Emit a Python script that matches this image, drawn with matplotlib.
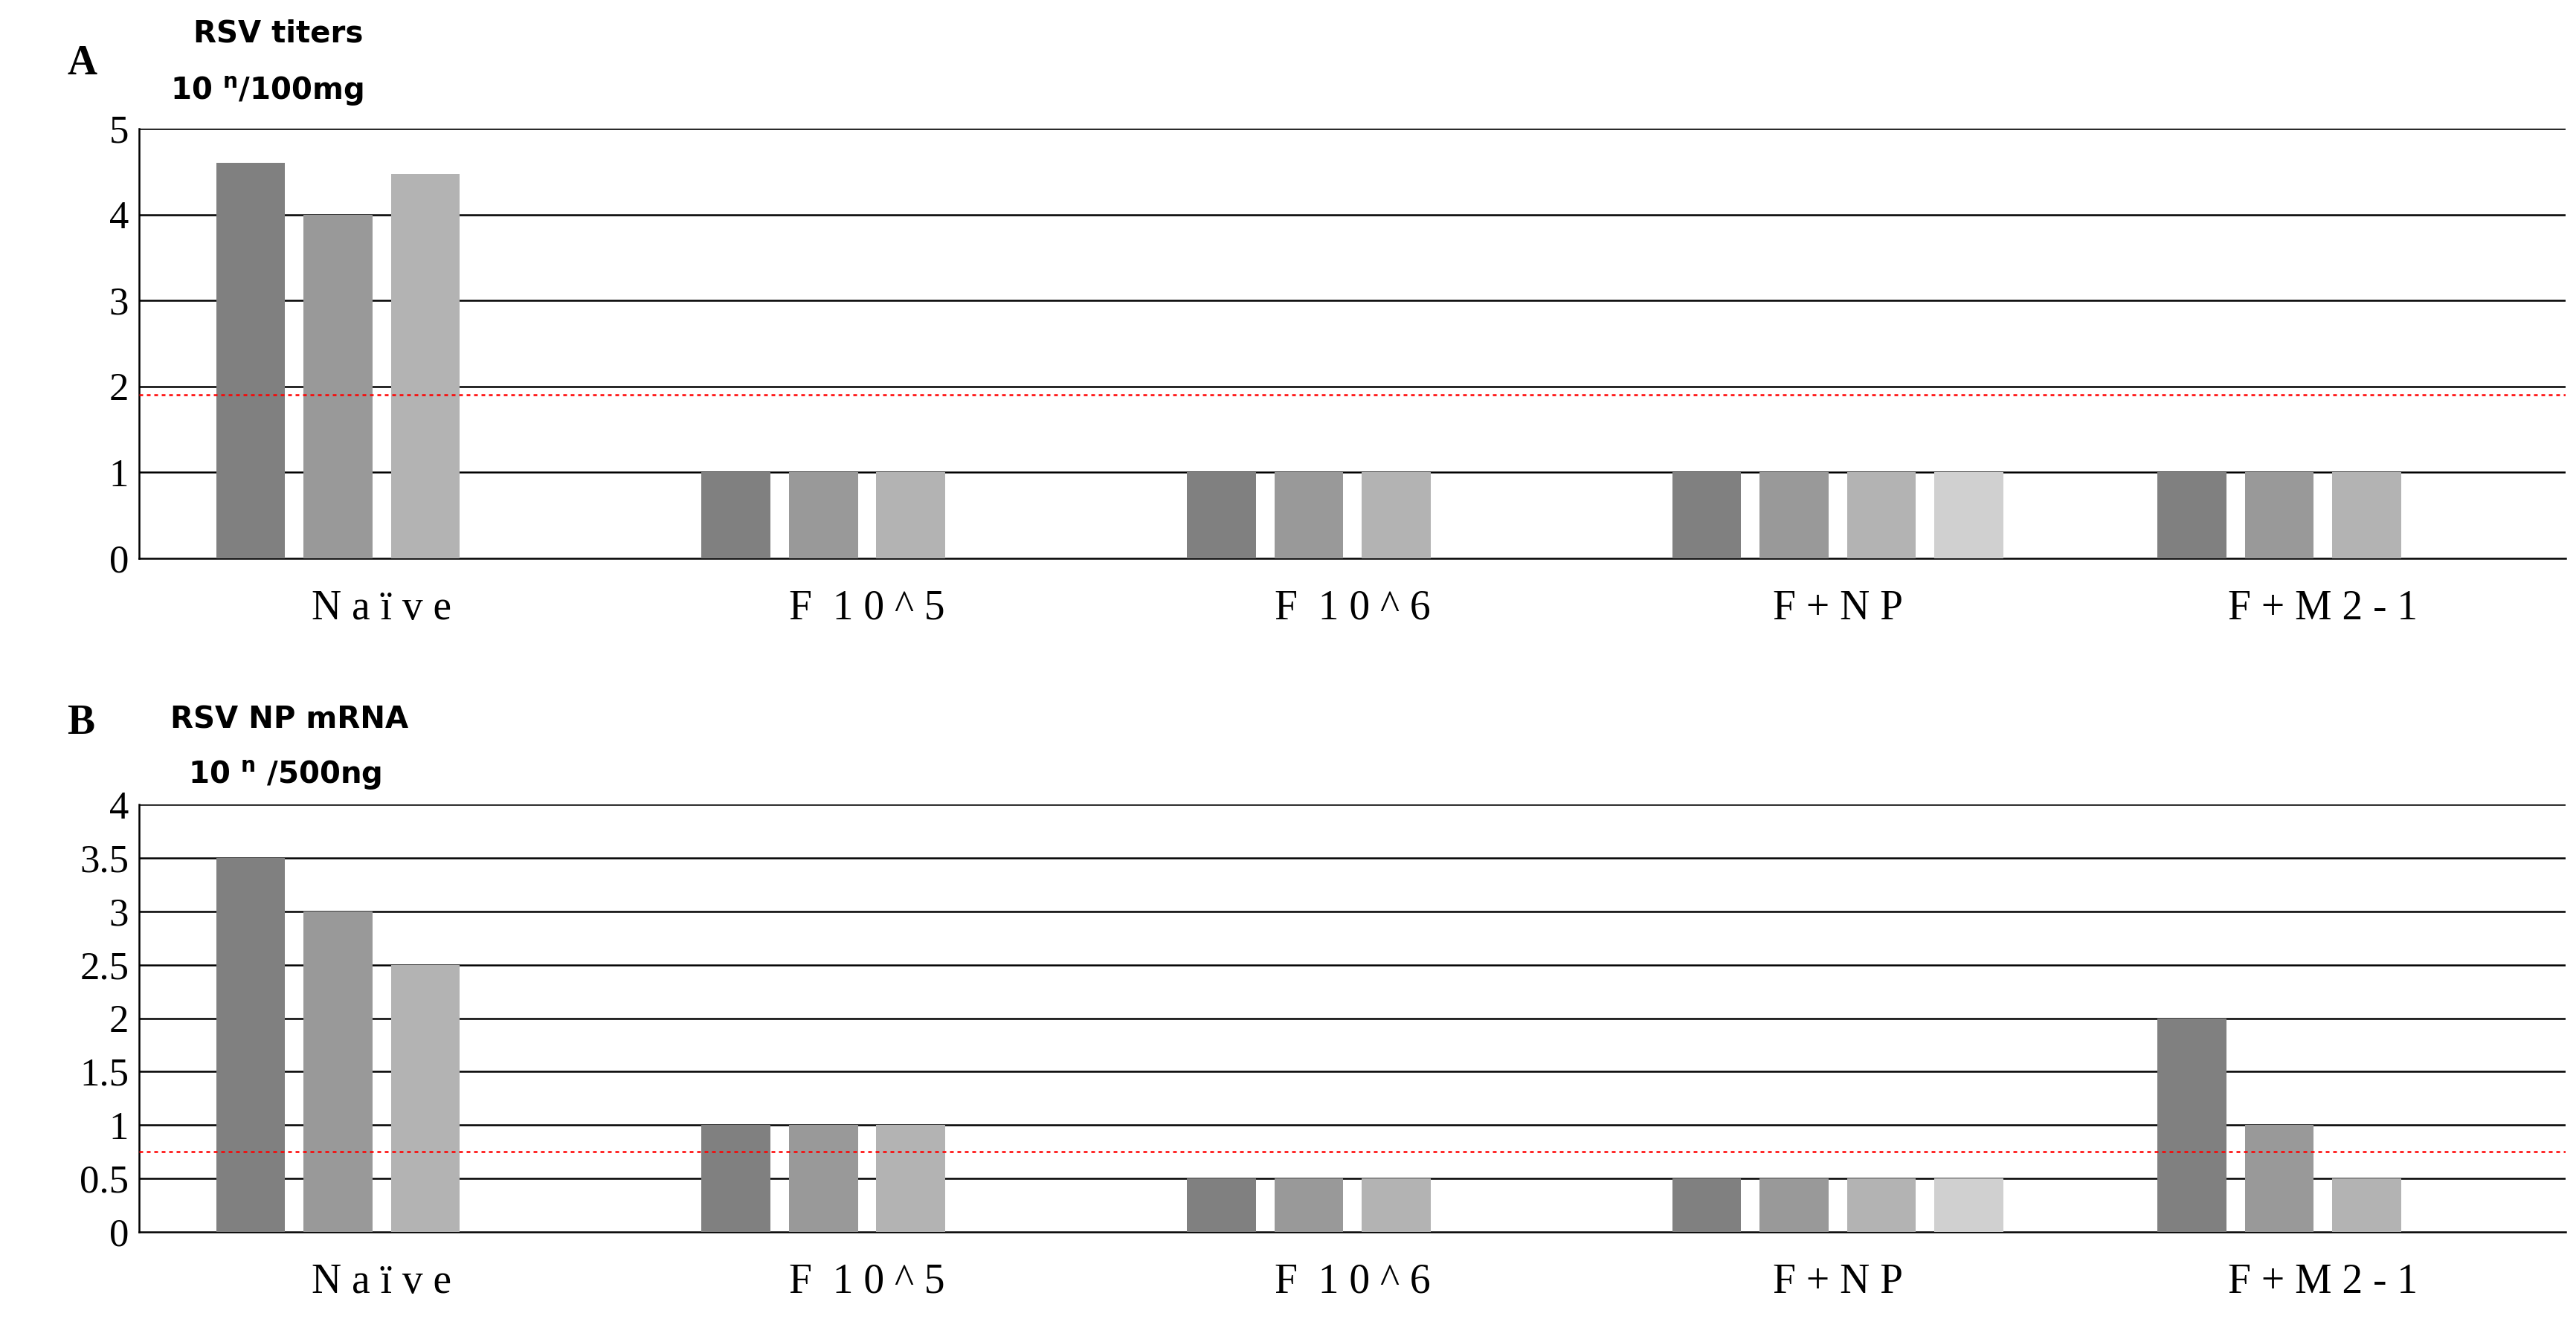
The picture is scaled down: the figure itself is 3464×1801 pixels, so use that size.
import matplotlib
matplotlib.use("Agg")
import matplotlib.pyplot as plt
import numpy as np

groups = ["Naïve", "F 10^5", "F 10^6", "F+NP", "F+M2-1"]
titers = [[4.6, 4.0, 4.47], [1, 1, 1], [1, 1, 1], [1, 1, 1, 1], [1, 1, 1]]
mrna = [[3.5, 3.0, 2.5], [1, 1, 1], [0.5, 0.5, 0.5], [0.5, 0.5, 0.5, 0.5], [2.0, 1.0, 0.5]]
colors = ["#808080", "#999999", "#b3b3b3", "#d0d0d0"]
cutoff_a = 1.9
cutoff_b = 0.75

fig = plt.figure(figsize=(34.64, 18.01), dpi=100)
axA = fig.add_axes([0.054, 0.583, 0.942, 0.321])
axB = fig.add_axes([0.054, 0.080, 0.942, 0.319])

def draw(ax, data, ymax, step, cutoff, ticklabels):
    slot = 0.18
    for i, vals in enumerate(data):
        for j, v in enumerate(vals):
            ax.bar(i + (j - 1.5) * slot, v, width=0.142, color=colors[j], zorder=3)
    ax.set_xlim(-0.5, 4.5)
    ax.set_ylim(0, ymax)
    ticks = np.arange(0, ymax + 1e-9, step)
    ax.set_yticks(ticks)
    ax.set_yticklabels(ticklabels, fontfamily="Liberation Serif", fontsize=38)
    for t in ticks[1:]:
        ax.axhline(t, color="black", lw=1.8, zorder=1)
    ax.axhline(cutoff, color="red", lw=1.8, ls=(0, (2, 2)), zorder=4)
    ax.set_xticks(range(len(groups)))
    ax.set_xticklabels([" ".join(list(g)).replace("   ", "  ") for g in groups],
                       fontfamily="Liberation Serif", fontsize=40)
    ax.tick_params(axis="x", length=0, pad=30)
    ax.tick_params(axis="y", length=0, pad=10)
    for s in ["top", "right"]:
        ax.spines[s].set_visible(False)
    for s in ["left", "bottom"]:
        ax.spines[s].set_linewidth(1.8)

draw(axA, titers, 5, 1, cutoff_a, ["0", "1", "2", "3", "4", "5"])
draw(axB, mrna, 4, 0.5, cutoff_b, ["0", "0.5", "1", "1.5", "2", "2.5", "3", "3.5", "4"])

fig.text(0.026, 0.952, "A", fontfamily="Liberation Serif", fontweight="bold", fontsize=40, va="center")
fig.text(0.075, 0.975, "RSV titers", fontweight="bold", fontsize=29, va="center")
fig.text(0.066, 0.932, r"10 $^{\mathregular{n}}$/100mg", fontweight="bold", fontsize=29, va="center")
fig.text(0.026, 0.460, "B", fontfamily="Liberation Serif", fontweight="bold", fontsize=40, va="center")
fig.text(0.066, 0.462, "RSV NP mRNA", fontweight="bold", fontsize=29, va="center")
fig.text(0.073, 0.421, r"10 $^{\mathregular{n}}$ /500ng", fontweight="bold", fontsize=29, va="center")

fig.savefig("out.png", dpi=100)
